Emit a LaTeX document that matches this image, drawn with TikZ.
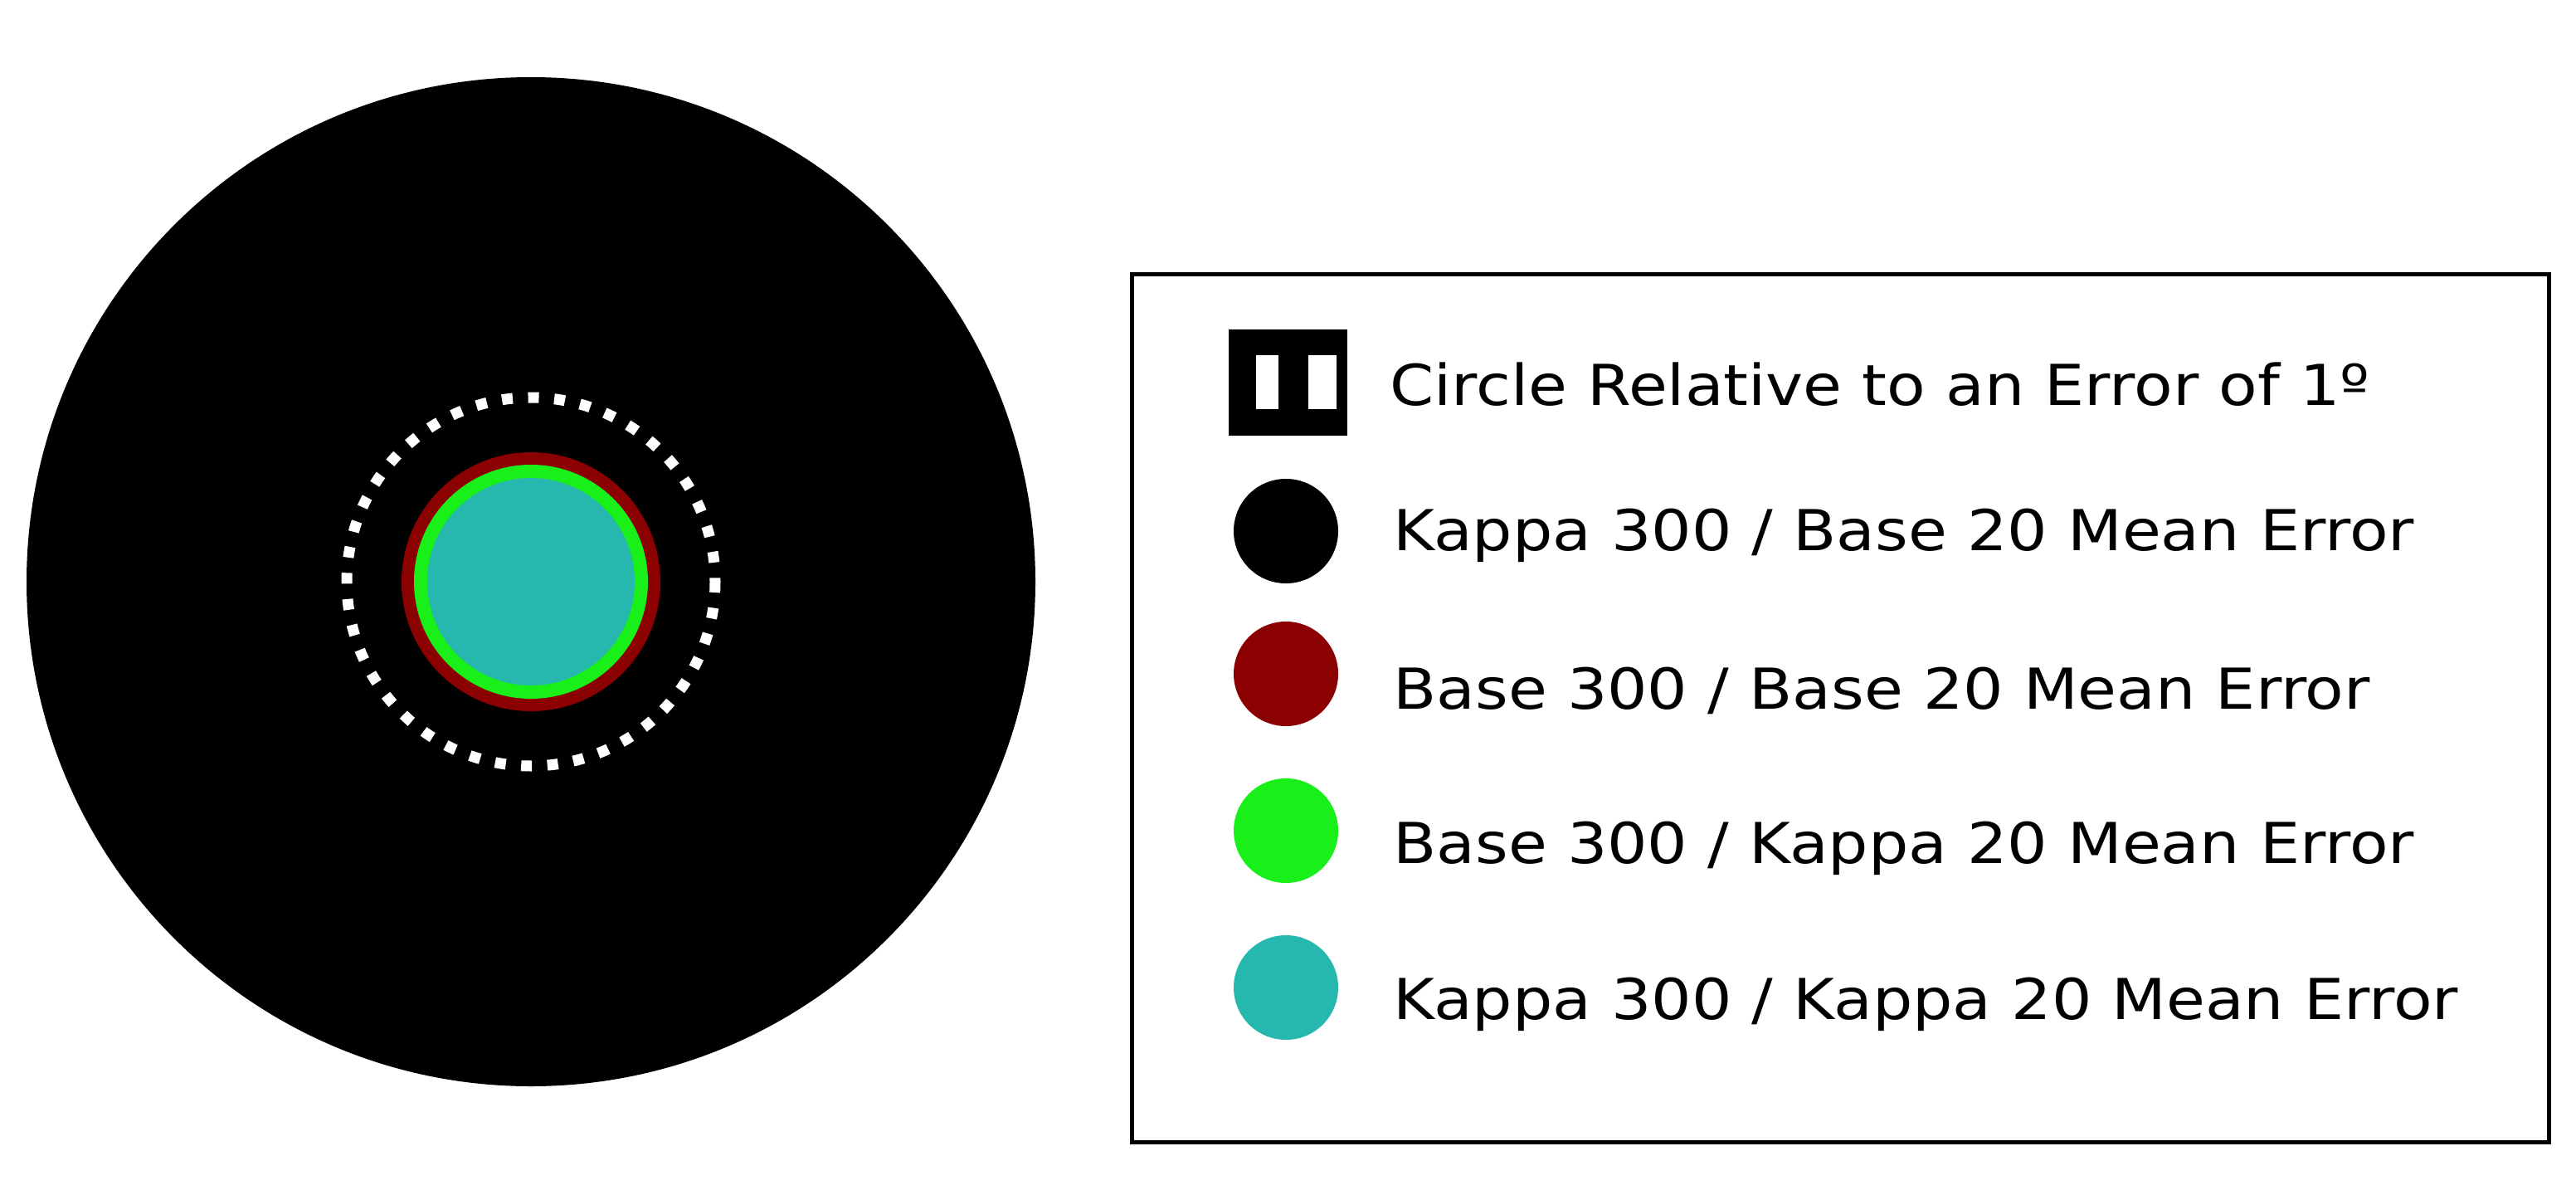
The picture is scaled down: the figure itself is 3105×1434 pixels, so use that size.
\documentclass[tikz,border=0pt]{standalone}
\usepackage{fontspec}
\setmainfont[FakeStretch=1.12]{DejaVu Sans}
\definecolor{dred}{HTML}{8B0000}
\definecolor{lgreen}{HTML}{19F019}
\definecolor{teal2}{HTML}{26B7AE}
\begin{document}
\begin{tikzpicture}[x=0.5pt,y=-0.5pt,
  lbl/.style={anchor=west,inner sep=0pt,font=\fontsize{34}{40}\selectfont},
  dot/.style={circle,minimum size=63pt,inner sep=0pt}]
\useasboundingbox (0,0) rectangle (3105,1434);
\fill[black] (640,701) circle[radius=608];
\draw[white,line width=6.5pt,dash pattern=on 6.5pt off 9.3pt] (640,701) circle[radius=222];
\fill[dred] (640,701) circle[radius=156];
\fill[lgreen] (640,701) circle[radius=141];
\fill[teal2] (640,701) circle[radius=125];
\node[draw,line width=2.5pt,minimum width=854pt,minimum height=523pt,inner sep=0pt] (box) at (2218.5,853) {};
\fill[black] (1481,397) rectangle (1624,525);
\fill[white] (1514,428) rectangle (1541,493);
\fill[white] (1577,428) rectangle (1611,493);
\node[lbl] (t0) at (1675,463) {Circle Relative to an Error of 1º};
\node[dot,fill=black] (c1) at (1550,640) {};
\node[lbl] (t1) at (1679,645) {Kappa 300 / Base 20 Mean Error};
\node[dot,fill=dred] (c2) at (1550,812) {};
\node[lbl] (t2) at (1679,832) {Base 300 / Base 20 Mean Error};
\node[dot,fill=lgreen] (c3) at (1550,1001) {};
\node[lbl] (t3) at (1679,1022) {Base 300 / Kappa 20 Mean Error};
\node[dot,fill=teal2] (c4) at (1550,1190) {};
\node[lbl] (t4) at (1679,1210) {Kappa 300 / Kappa 20 Mean Error};
\end{tikzpicture}
\end{document}
